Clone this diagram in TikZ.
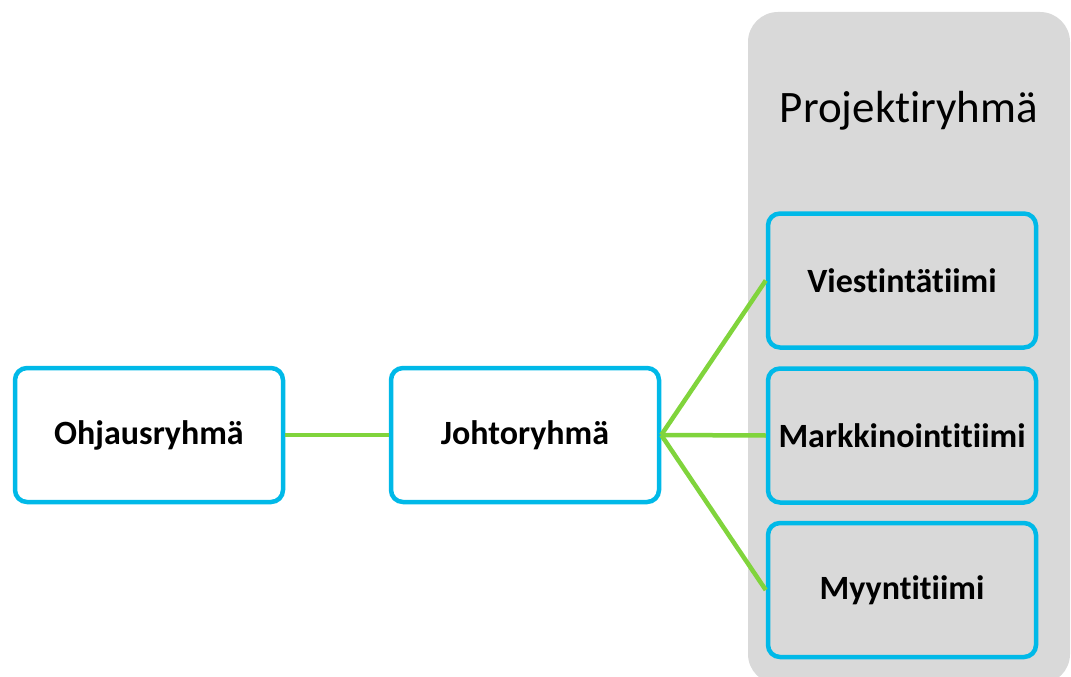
\documentclass[tikz,border=0pt]{standalone}
\usepackage{fontspec}
\setmainfont{Carlito}[Ligatures={NoCommon,NoContextual}]
\definecolor{boxblue}{HTML}{00B9E8}
\definecolor{linkgreen}{HTML}{80D43C}
\definecolor{panelgrey}{HTML}{D9D9D9}
\begin{document}
\begin{tikzpicture}[x=1pt,y=-1pt,
  unitbox/.style={draw=boxblue, line width=4.5pt, rounded corners=12pt,
    minimum width=268pt, minimum height=134pt, inner sep=0pt,
    font=\fontsize{34}{40}\selectfont\bfseries},
  link/.style={draw=linkgreen, line width=4.5pt}]
  \useasboundingbox (0,0) rectangle (1071,677);
  \begin{scope}
    \clip (0,0) rectangle (1071,677);
    % grey project group panel
    \fill[panelgrey, rounded corners=30pt] (748,12) rectangle (1070,684);
  \end{scope}
  \node[font=\fontsize{45}{54}\selectfont] (proj) at (909,111) {Projektiryhmä};

  \node[unitbox, fill=white] (ohj) at (149,435) {Ohjausryhmä};
  \node[unitbox, fill=white] (joh) at (525,435) {Johtoryhmä};
  \node[unitbox] (vie) at (902,280.5) {Viestintätiimi};
  \node[unitbox] (mar) at (902,435.5) {Markkinointitiimi};
  \node[unitbox] (myy) at (902,590) {Myyntitiimi};

  \draw[link] (ohj.east) -- (joh.west);
  \draw[link] (joh.east) -- (vie.west);
  \draw[link] (joh.east) -- (mar.west);
  \draw[link] (joh.east) -- (myy.west);
\end{tikzpicture}
\end{document}
